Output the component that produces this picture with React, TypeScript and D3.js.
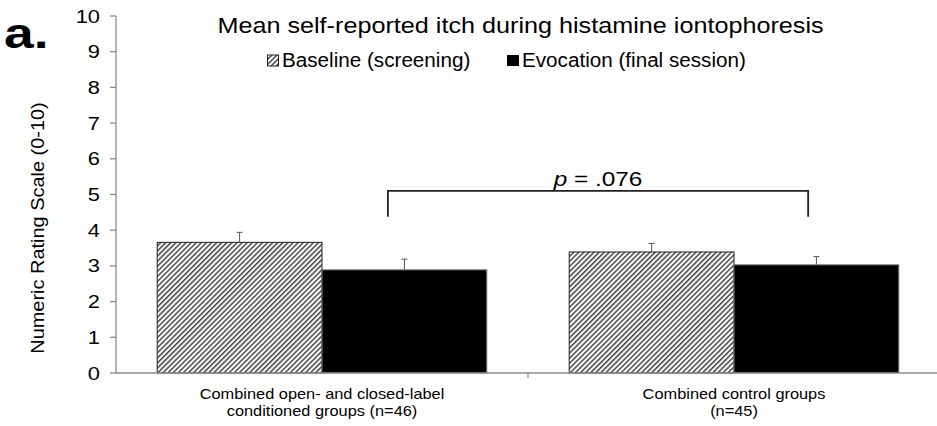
import React from "react";
import * as d3 from "d3";

const categories = ["cond", "control"];
const categoryLines = [
  ["Combined open- and closed-label", "conditioned groups (n=46)"],
  ["Combined control groups", "(n=45)"],
];
const seriesNames = ["Baseline (screening)", "Evocation (final session)"];
const baselineValues = [3.66, 3.39];
const baselineErrors = [0.28, 0.24];
const evocationValues = [2.89, 3.03];
const evocationErrors = [0.30, 0.23];
const yTicks = [0, 1, 2, 3, 4, 5, 6, 7, 8, 9, 10];
const pLabelValue = ".076";
const bracketLevel = 5.1;
const bracketFoot = 4.38;

const W = 937;
const H = 426;
const FONT = "'Liberation Sans', Arial, sans-serif";

function T({ x, y, sx = 1, anchor = "start", size, children, weight, rotate = 0 }: any) {
  return (
    <text
      transform={`translate(${x},${y}) rotate(${rotate}) scale(${sx},1)`}
      textAnchor={anchor}
      fontSize={size}
      fontWeight={weight}
      fill="#000"
    >
      {children}
    </text>
  );
}

export default function App() {
  const left = 116;
  const right = 940;
  const top = 16;
  const bottom = 373;
  const y = d3.scaleLinear().domain([0, 10]).range([bottom, top]);
  const x = d3.scaleBand<string>().domain(categories).range([left, right]).paddingInner(0).paddingOuter(0);
  const bw = x.bandwidth();
  const groupPad = 0.1;
  const xs = d3
    .scaleBand<string>()
    .domain(["b", "e"])
    .range([bw * groupPad, bw * (1 - groupPad)]);

  const series = [
    { key: "b", values: baselineValues, errors: baselineErrors, fill: "url(#hatch)", stroke: "#222" },
    { key: "e", values: evocationValues, errors: evocationErrors, fill: "#000", stroke: "#7a7a7a" },
  ];

  const bx1 = (x(categories[0]) as number) + bw * 0.66;
  const bx2 = (x(categories[1]) as number) + bw * 0.68;

  return (
    <svg width={W} height={H} style={{ position: "absolute", left: 0, top: 0, background: "#fff" }} fontFamily={FONT}>
      <defs>
        <pattern id="hatch" patternUnits="userSpaceOnUse" width={3.6} height={3.6} patternTransform="rotate(45)">
          <rect width={3.6} height={3.6} fill="#fff" />
          <rect width={1.5} height={3.6} fill="#444" />
        </pattern>
      </defs>
      <rect width={W} height={H} fill="#fff" />
      <T x={4} y={48} size={42} weight="bold" sx={1.27}>a.</T>

      {/* y axis */}
      <line x1={left} x2={left} y1={y(10)} y2={y(0)} stroke="#8c8c8c" strokeWidth={1.3} />
      {yTicks.map((t) => (
        <g key={t}>
          <line x1={left - 6} x2={left} y1={y(t)} y2={y(t)} stroke="#8c8c8c" strokeWidth={1.3} />
          <T x={100} y={y(t) + 6.5} anchor="end" size={18.5} sx={1.18}>{t}</T>
        </g>
      ))}
      <T x={44} y={228} anchor="middle" size={19} sx={1.05} rotate={-90}>
        Numeric Rating Scale (0-10)
      </T>

      {/* bars */}
      {series.map((s) =>
        categories.map((c, i) => {
          const bx = (x(c) as number) + (xs(s.key) as number);
          const v = s.values[i];
          const e = s.errors[i];
          const cx = bx + xs.bandwidth() / 2;
          return (
            <g key={s.key + c}>
              <line x1={cx} x2={cx} y1={y(v)} y2={y(v + e)} stroke="#555" strokeWidth={1} />
              <line x1={cx - 3} x2={cx + 3} y1={y(v + e)} y2={y(v + e)} stroke="#555" strokeWidth={1} />
              <rect x={bx} y={y(v)} width={xs.bandwidth()} height={y(0) - y(v)} fill={s.fill} stroke={s.stroke} strokeWidth={1} />
            </g>
          );
        })
      )}

      {/* x axis */}
      <line x1={left} x2={right} y1={y(0)} y2={y(0)} stroke="#8c8c8c" strokeWidth={1.3} />
      <line x1={x(categories[1])} x2={x(categories[1])} y1={y(0)} y2={y(0) + 5} stroke="#8c8c8c" strokeWidth={1.3} />
      {categories.map((c, i) =>
        categoryLines[i].map((ln, j) => (
          <T key={c + j} x={(x(c) as number) + bw / 2} y={399 + j * 17} anchor="middle" size={14} sx={1.17}>
            {ln}
          </T>
        ))
      )}

      {/* bracket */}
      <path
        d={`M${bx1},${y(bracketFoot)}V${y(bracketLevel)}H${bx2}V${y(bracketFoot)}`}
        fill="none"
        stroke="#222"
        strokeWidth={1.8}
      />
      <T x={(bx1 + bx2) / 2} y={186} anchor="middle" size={19.5} sx={1.25}>
        <tspan fontStyle="italic">p</tspan> = {pLabelValue}
      </T>

      {/* title */}
      <T x={520.5} y={33.3} anchor="middle" size={22.5} sx={1.12}>
        Mean self-reported itch during histamine iontophoresis
      </T>

      {/* legend */}
      <rect x={267.5} y={55} width={11} height={11} fill="url(#hatch)" stroke="#222" strokeWidth={1} />
      <T x={282} y={67.3} size={19.5} sx={1.06}>{seriesNames[0]}</T>
      <rect x={507} y={55} width={12} height={11} fill="#000" />
      <T x={522} y={67.3} size={19.5} sx={1.06}>{seriesNames[1]}</T>
    </svg>
  );
}
